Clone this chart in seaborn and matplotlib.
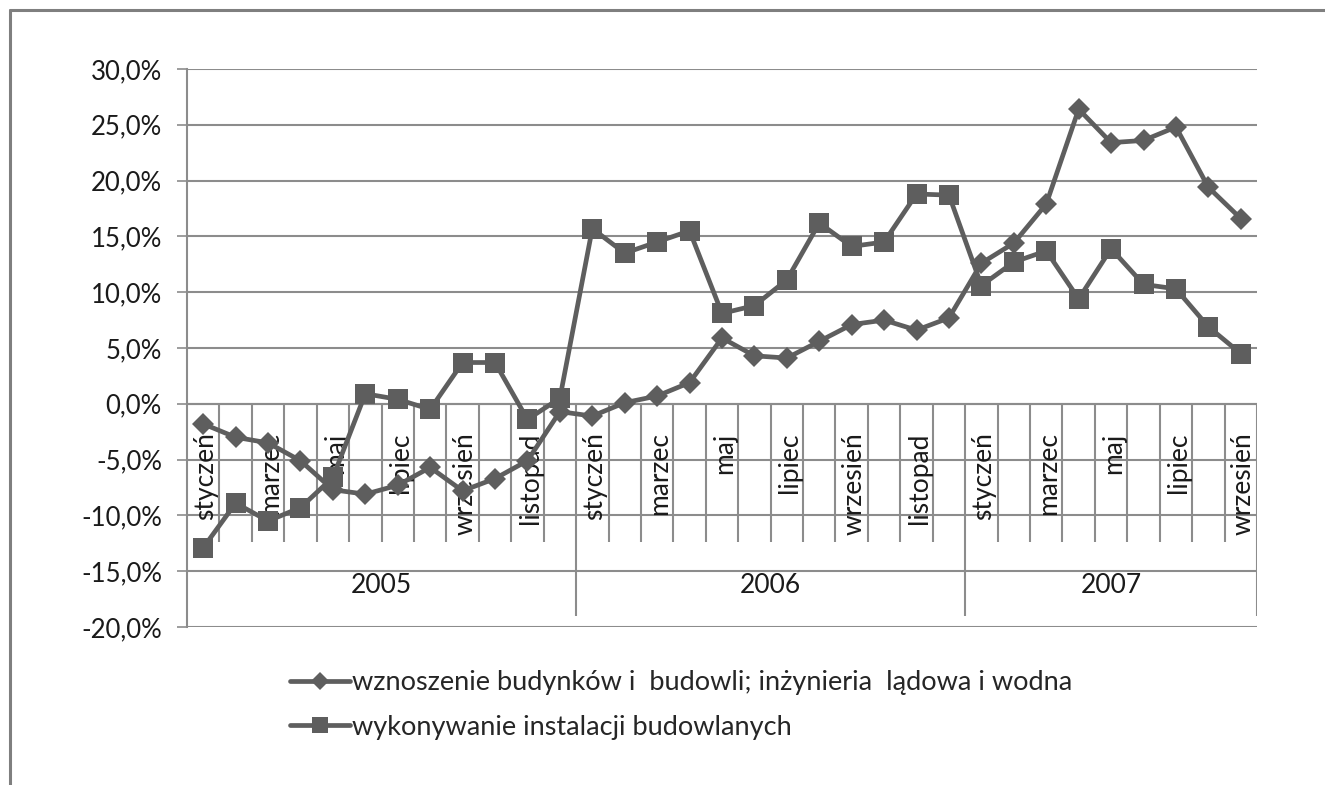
import matplotlib
matplotlib.use("Agg")
import matplotlib.pyplot as plt
from matplotlib.lines import Line2D
import seaborn as sns
import numpy as np
import pandas as pd

# ---- data ----
years = ["2005", "2006", "2007"]
months_per_year = [12, 12, 9]
month_names = ["styczeń", "luty", "marzec", "kwiecień", "maj", "czerwiec",
               "lipiec", "sierpień", "wrzesień", "październik", "listopad", "grudzień"]
series_names = ["wznoszenie budynków i  budowli; inżynieria  lądowa i wodna",
                "wykonywanie instalacji budowlanych"]
wznoszenie = [-1.8, -3.0, -3.5, -5.1, -7.7, -8.1, -7.3, -5.7, -7.8, -6.7, -5.1, -0.7,
              -1.1, 0.1, 0.7, 1.9, 5.9, 4.3, 4.1, 5.6, 7.1, 7.5, 6.6, 7.7,
              12.6, 14.4, 17.9, 26.4, 23.4, 23.6, 24.8, 19.4, 16.6]
instalacje = [-12.9, -8.9, -10.5, -9.3, -6.6, 0.9, 0.4, -0.5, 3.7, 3.7, -1.4, 0.5,
              15.7, 13.5, 14.5, 15.5, 8.1, 8.8, 11.1, 16.2, 14.1, 14.5, 18.8, 18.7,
              10.6, 12.7, 13.7, 9.4, 13.9, 10.7, 10.3, 6.9, 4.5]
y_ticks = [-20, -15, -10, -5, 0, 5, 10, 15, 20, 25, 30]

# ---- style ----
sns.set_theme(style="white")
plt.rcParams['font.family'] = ['Lato', 'DejaVu Sans']
FS = 18.5
LINE_C = "#5e5e5e"
GRID_C = "#8c8c8c"
TXT_C = "#1a1a1a"

labels_x = []
for y, n in zip(years, months_per_year):
    for m in range(n):
        labels_x.append((y, month_names[m]))
x = np.arange(len(labels_x))

df = pd.DataFrame({"x": x, "w": np.array(wznoszenie) / 100, "i": np.array(instalacje) / 100})

fig = plt.figure(figsize=(13.25, 7.85), dpi=100)
ax = fig.add_axes([187 / 1325, 158 / 785, 1070 / 1325, 558 / 785])

sns.lineplot(data=df, x="x", y="w", ax=ax, color=LINE_C, linewidth=3.4, marker="D",
             markersize=11.5, markeredgewidth=0, label=series_names[0], zorder=5)
sns.lineplot(data=df, x="x", y="i", ax=ax, color=LINE_C, linewidth=3.4, marker="s",
             markersize=14.5, markeredgewidth=0, label=series_names[1], zorder=5)

ax.set_xlim(-0.5, len(x) - 0.5)
ax.set_ylim(-0.20, 0.30)
yt = np.array(y_ticks) / 100
ax.set_yticks(yt)
ax.set_yticklabels([f"{v:.1f}%".replace(".", ",") for v in y_ticks], fontsize=FS, color=TXT_C)
ax.tick_params(axis="y", length=7, width=1.2, color=GRID_C, pad=11, left=True)
ax.set_xticks([])
ax.set_xlabel("")
ax.set_ylabel("")
for s in ["top", "right", "bottom"]:
    ax.spines[s].set_visible(False)
ax.spines["left"].set_color(GRID_C)
ax.spines["left"].set_linewidth(1.5)
ax.yaxis.grid(True, color=GRID_C, linewidth=1.5)
ax.set_axisbelow(True)

# category axis (multi-level) drawn inside the plot area
ax.axhline(0, color=GRID_C, linewidth=1.5, zorder=1)
month_bottom, year_bottom = -0.124, -0.19
start = 0
year_edges = []
for y, n in zip(years, months_per_year):
    year_edges.append(start + n - 0.5)
    for k in range(n):
        xi = start + k
        if k % 2 == 0:
            ax.text(xi + 0.08, -0.0255, month_names[k], rotation=90, ha="center", va="top",
                    fontsize=FS + 0.5, color=TXT_C, zorder=2)
    ax.text(start + (n - 1) / 2, -0.1625, y, ha="center", va="center", fontsize=FS + 0.5,
            color=TXT_C, zorder=2)
    start += n
inner = [b + 0.5 for b in x[:-1] if (b + 0.5) not in year_edges]
ax.vlines(inner, month_bottom, 0, color=GRID_C, linewidth=1.5, zorder=1)
ax.vlines(year_edges, year_bottom, 0, color=GRID_C, linewidth=1.5, zorder=1)

# legend
handles, labs = ax.get_legend_handles_labels()
ax.legend(handles, labs, loc="upper left", bbox_to_anchor=(290 / 1325, 1 - 670 / 785),
          bbox_transform=fig.transFigure, frameon=False, fontsize=19.5, handlelength=2.2,
          handletextpad=0.1, labelspacing=0.72, borderpad=0, borderaxespad=0,
          markerscale=0.8)

# outer frame (left and top)
fig.add_artist(Line2D([10 / 1325, 10 / 1325], [0, 1 - 10 / 785], transform=fig.transFigure,
                      color="#7f7f7f", linewidth=2.2))
fig.add_artist(Line2D([10 / 1325, 1], [1 - 10 / 785, 1 - 10 / 785], transform=fig.transFigure,
                      color="#7f7f7f", linewidth=2.2))

fig.savefig("out.png", dpi=100, facecolor="white")
